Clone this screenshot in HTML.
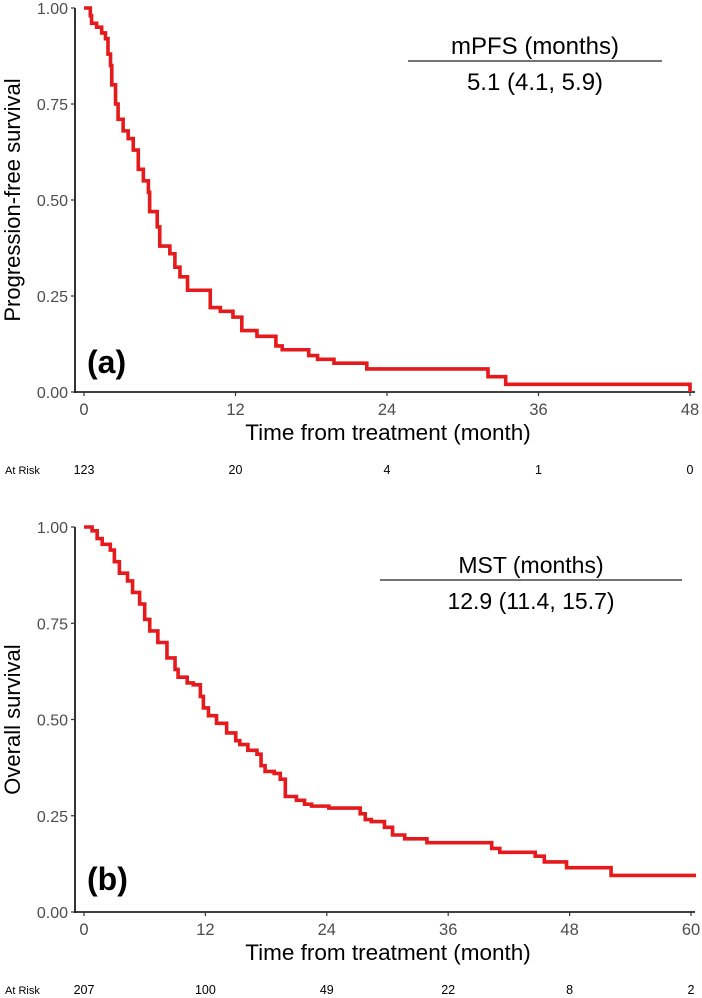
<!DOCTYPE html>
<html><head><meta charset="utf-8"><style>
html,body{margin:0;padding:0;background:#fff;}
svg{display:block;font-family:"Liberation Sans",Arial,sans-serif;}
</style></head><body>
<svg id="fig" width="702" height="998" viewBox="0 0 702 998"></svg>
<script>
// Panel (a): progression-free survival
const pfsTimes = [0,0.5,0.6,1.0,1.4,1.7,1.9,2.1,2.2,2.5,2.7,3.1,3.5,3.9,4.3,4.7,5.1,5.2,5.8,6.0,6.8,7.2,7.6,8.2,10.0,10.8,11.8,12.5,13.7,15.2,15.7,17.8,18.5,19.8,22.4,32,33.4,48];
const pfsSurv  = [1,0.98,0.96,0.95,0.935,0.92,0.88,0.85,0.80,0.75,0.71,0.68,0.66,0.63,0.58,0.55,0.52,0.47,0.43,0.38,0.36,0.325,0.30,0.265,0.22,0.21,0.195,0.16,0.145,0.12,0.11,0.095,0.085,0.075,0.06,0.04,0.02,0];
const pfsXTicks = [0,12,24,36,48];
const pfsRisk = ["123","20","4","1","0"];
// Panel (b): overall survival
const osTimes = [0,0.8,1.3,1.8,2.6,3.0,3.5,4.3,4.8,5.5,6.0,6.5,7.3,8.2,9.0,9.3,10.2,10.8,11.5,11.8,12.3,13.1,14.1,15.0,15.4,16.2,17.1,17.5,17.9,18.8,19.4,19.9,21,21.8,22.5,24.2,27.3,27.8,28.4,29.7,30.5,31.7,33.9,40.3,41.1,44.6,45.5,47.7,52.1];
const osSurv  = [1,0.99,0.97,0.955,0.94,0.91,0.88,0.86,0.83,0.80,0.76,0.73,0.70,0.66,0.63,0.61,0.595,0.59,0.56,0.53,0.51,0.49,0.465,0.445,0.435,0.42,0.41,0.38,0.365,0.36,0.345,0.30,0.29,0.28,0.275,0.27,0.255,0.24,0.235,0.22,0.2,0.19,0.18,0.165,0.155,0.145,0.13,0.115,0.095];
const osEnd = 60.5;
const osXTicks = [0,12,24,36,48,60];
const osRisk = ["207","100","49","22","8","2"];
const yTicks = [0,0.25,0.5,0.75,1];
const yTickLabels = ["0.00","0.25","0.50","0.75","1.00"];

const NS="http://www.w3.org/2000/svg";
const svg=document.getElementById('fig');
function mk(tag,attrs,parent){const e=document.createElementNS(NS,tag);for(const k in attrs)e.setAttribute(k,attrs[k]);(parent||svg).appendChild(e);return e;}

function panel(o){
  const g=mk('g',{});
  
  
  const X=t=>o.x0+(t/o.xMax)*(o.x1-o.x0);
  const Y=v=>o.y0-v*(o.y0-o.y1);
  const ya=mk('line',{x1:75,x2:75,y1:o.y1,y2:o.y0+1,stroke:'#000','stroke-width':1.6},g);
  
  
  const xa=mk('line',{x1:74.2,x2:695,y1:o.y0,y2:o.y0,stroke:'#000','stroke-width':1.6},g);
  
  
  yTicks.forEach((v,i)=>{
    mk('line',{x1:71,x2:75,y1:Y(v),y2:Y(v),stroke:'#333','stroke-width':1.2},g);
    const t=mk('text',{x:68,y:Y(v)+6,'text-anchor':'end','font-size':16,fill:'#4d4d4d'},g);
    t.textContent=yTickLabels[i];
    
    
  });
  o.xTicks.forEach((v,i)=>{
    mk('line',{x1:X(v),x2:X(v),y1:o.y0,y2:o.y0+4,stroke:'#333','stroke-width':1.2},g);
    const t=mk('text',{x:X(v),y:o.y0+23,'text-anchor':'middle','font-size':16.5,fill:'#4d4d4d'},g);
    t.textContent=v;
    
    
    const r=mk('text',{x:X(v),y:o.riskY,'text-anchor':'middle','font-size':12.5,fill:'#000'},g);
    r.textContent=o.risk[i];
    
    
  });
  const ar=mk('text',{x:5,y:o.riskY,'font-size':11,fill:'#000'},g);
  ar.textContent='At Risk';
  
  
  const xt=mk('text',{x:388,y:o.y0+48,'text-anchor':'middle','font-size':22.5,fill:'#000'},g);
  xt.textContent='Time from treatment (month)';
  
  
  const yc=(o.y0+o.y1)/2;
  const yt=mk('text',{x:20,y:yc,'text-anchor':'middle','font-size':22,fill:'#000',transform:`rotate(-90 20 ${yc})`},g);
  yt.textContent=o.yTitle;
  
  
  let d=`M${X(o.times[0])},${Y(o.surv[0])}`;
  for(let i=1;i<o.times.length;i++){d+=` H${X(o.times[i])} V${Y(o.surv[i])}`;}
  if(o.end!==undefined) d+=` H${X(o.end)}`;
  const p=mk('path',{d:d,fill:'none',stroke:'#e41a1c','stroke-width':3.6,'stroke-linejoin':'miter'},g);
  
  
  const lb=mk('text',{x:87,y:o.labelY,'font-size':32,'font-weight':'bold',fill:'#000'},g);
  lb.textContent=o.label;
  
  
  const lt=mk('text',{x:o.lgCx,y:o.lgY-7,'text-anchor':'middle','font-size':o.lgFs,fill:'#000'},g);
  lt.textContent=o.lgTitle;
  
  
  mk('line',{x1:o.lgX1,x2:o.lgX2,y1:o.lgY,y2:o.lgY,stroke:'#222','stroke-width':1.2},g);
  const lv=mk('text',{x:o.lgCx,y:o.lgY+29,'text-anchor':'middle','font-size':o.lgFs,fill:'#000'},g);
  lv.textContent=o.lgVal;
  
  
}
panel({name:'pfs',x0:84,x1:690,xMax:48,y0:392,y1:8,times:pfsTimes,surv:pfsSurv,xTicks:pfsXTicks,risk:pfsRisk,riskY:474,
  yTitle:'Progression-free survival',label:'(a)',labelY:373,lgTitle:'mPFS (months)',lgVal:'5.1 (4.1, 5.9)',lgCx:535,lgX1:408,lgX2:662,lgY:61,lgFs:24});
panel({name:'os',x0:84,x1:691,xMax:60,y0:912,y1:527,times:osTimes,surv:osSurv,end:osEnd,xTicks:osXTicks,risk:osRisk,riskY:994,
  yTitle:'Overall survival',label:'(b)',labelY:890,lgTitle:'MST (months)',lgVal:'12.9 (11.4, 15.7)',lgCx:531,lgX1:380,lgX2:682,lgY:580,lgFs:23});
</script>
</body></html>
